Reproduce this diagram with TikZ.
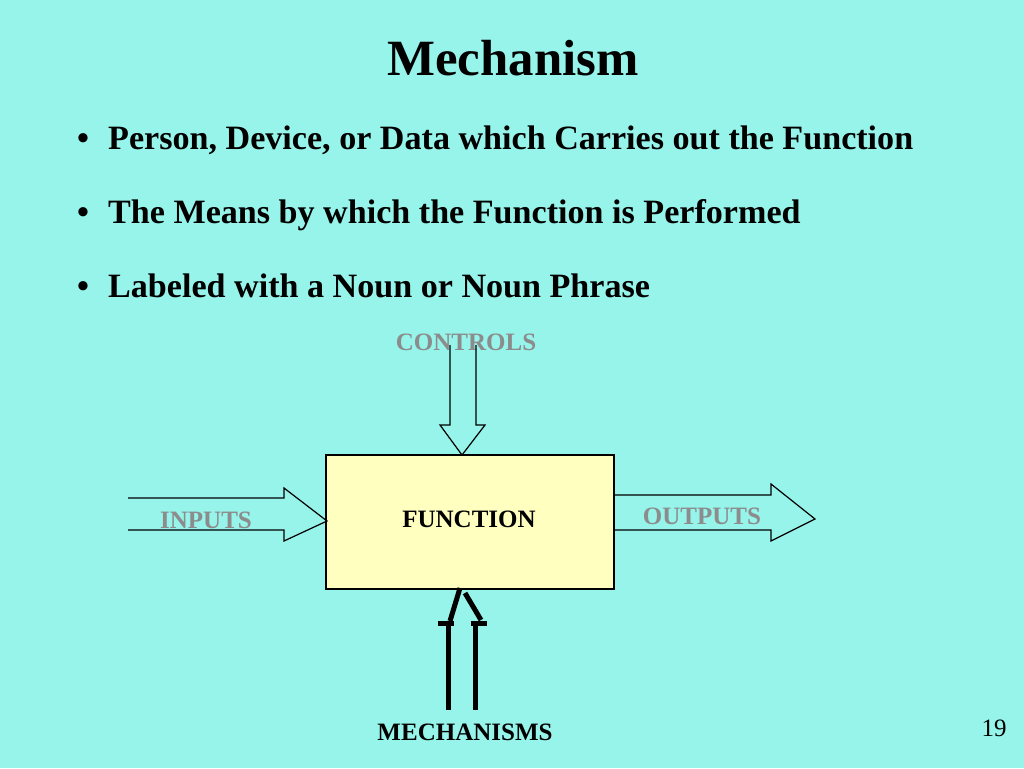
\documentclass[tikz,border=0pt]{standalone}
\usepackage{fontspec}
\setmainfont{Liberation Serif}
\definecolor{bgcol}{RGB}{150,244,234}
\definecolor{boxcol}{RGB}{255,255,192}
\definecolor{lblgray}{RGB}{140,140,140}
\begin{document}
\begin{tikzpicture}[x=1pt,y=-1pt,
  title/.style={font=\fontsize{50.8}{60}\selectfont\bfseries,anchor=base,inner sep=0pt},
  bullettext/.style={font=\fontsize{34.1}{40}\selectfont\bfseries,anchor=base west,inner sep=0pt},
  lbl/.style={font=\fontsize{25}{30}\selectfont\bfseries,anchor=base,inner sep=0pt},
  graylbl/.style={lbl,text=lblgray},
  outline/.style={draw=black,line width=1.2pt,line join=miter},
  thickarrow/.style={draw=black,line width=5pt},
  funcbox/.style={draw=black,line width=1.2pt,fill=boxcol,minimum width=288pt,minimum height=134pt,inner sep=0pt}
]
\fill[bgcol] (0,0) rectangle (1024,768);
\useasboundingbox (0,0) rectangle (1024,768);

\node[title] (ttl) at (513,75) {Mechanism};

\node[bullettext] (b1) at (77,149) {\textbullet};
\node[bullettext] (t1) at (108,149) {Person, Device, or Data which Carries out the Function};
\node[bullettext] (b2) at (77,223) {\textbullet};
\node[bullettext] (t2) at (108,223) {The Means by which the Function is Performed};
\node[bullettext] (b3) at (77,297) {\textbullet};
\node[bullettext] (t3) at (108,297) {Labeled with a Noun or Noun Phrase};

% function box
\node[funcbox] (func) at (470,522) {};
\node[lbl] (funclbl) at (469,527) {FUNCTION};

% controls
\node[graylbl] (ctl) at (466,350) {CONTROLS};
\draw[outline] (450,345) -- (450,425) -- (440,425) -- (462,455) -- (485,425) -- (476,425) -- (476,345);

% inputs
\node[graylbl] (inp) at (206,528) {INPUTS};
\draw[outline] (128,498) -- (284,498) -- (284,488) -- (327,521) -- (284,541) -- (284,530) -- (128,530);

% outputs
\node[graylbl] (outp) at (702,524) {OUTPUTS};
\draw[outline] (614,495) -- (771,495) -- (771,484) -- (815,519) -- (771,541) -- (771,530) -- (614,530);

% mechanisms
\node[lbl] (mech) at (465,740) {MECHANISMS};
\draw[thickarrow] (448,710) -- (448,623);
\draw[thickarrow] (438,623) -- (454,623);
\draw[thickarrow] (450,621) -- (460,588);
\draw[thickarrow] (475,710) -- (475,623);
\draw[thickarrow] (471,623) -- (487,623);
\draw[thickarrow] (481,620) -- (465,593);

\node[font=\fontsize{25}{30}\selectfont,anchor=base,inner sep=0pt] (pg) at (994,736) {19};
\end{tikzpicture}
\end{document}
